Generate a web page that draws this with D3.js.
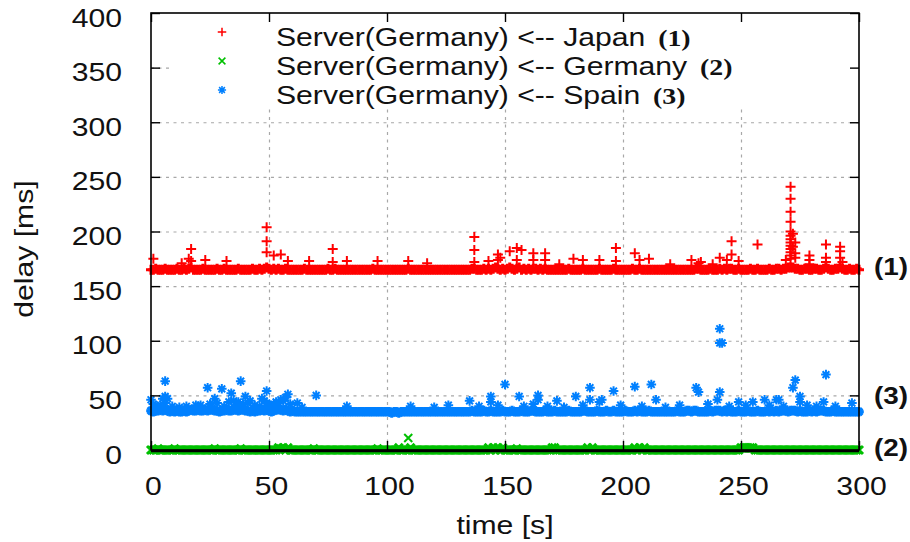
<!DOCTYPE html>
<html lang="en">
<head>
  <meta charset="utf-8">
  <script src="https://d3js.org/d3.v7.min.js"></script>
  <style>
    body { margin: 0; background: #fff; }
    text { font-family: "Liberation Sans", Arial, sans-serif; fill: #111; }
    .grid line { stroke: #a8a8a8; stroke-width: 1.2; stroke-dasharray: 3,4.5; }
    .grid path { display: none; }
    .ticks path { display: none; }
    .ticks line { stroke: #000; stroke-width: 1.4; }
  </style>
</head>
<body>
<svg class="chart"></svg>
<script>
  const timeTicks = [0, 50, 100, 150, 200, 250, 300];
  const delayTicks = [0, 50, 100, 150, 200, 250, 300, 350, 400];

  const legendNames = ["Server(Germany) <-- Japan", "Server(Germany) <-- Germany", "Server(Germany) <-- Spain"];
  const legendTags = ["(1)", "(2)", "(3)"];

  // one sample per second, t = 0..300 (the dense band)
  const japanDelay = [
    165,165,166,165,165,165,166,165,165,165,165,166,165,165,166,165,166,167,165,165,
    165,165,166,165,165,165,165,165,166,165,165,166,165,165,165,165,165,166,165,165,
    165,165,165,166,165,165,166,165,166,167,166,165,166,165,166,165,165,166,165,165,
    165,165,165,165,165,166,165,165,165,165,165,165,165,165,165,166,165,165,166,165,
    165,165,165,165,165,165,165,165,165,165,165,165,165,165,166,165,165,165,165,165,
    165,165,165,165,165,165,165,165,165,166,165,165,165,165,165,165,165,165,165,165,
    165,165,165,165,165,165,165,165,165,165,165,165,165,165,165,165,166,166,165,165,
    165,166,165,166,165,166,167,166,165,166,165,166,167,166,165,166,167,165,166,165,
    166,165,166,166,165,166,165,166,165,165,165,165,165,165,165,165,165,166,165,165,
    165,165,165,166,165,165,165,165,165,165,166,165,165,165,165,165,166,165,165,165,
    165,165,165,165,166,165,165,166,165,165,165,165,165,165,165,165,165,165,165,165,
    165,165,165,165,165,165,165,165,165,165,165,166,166,165,165,165,165,166,165,165,
    165,166,165,166,165,166,166,165,165,166,165,165,165,165,166,165,165,166,165,165,
    165,165,166,165,165,166,166,165,166,166,167,167,167,166,166,165,165,166,166,165,
    165,166,166,165,165,166,167,166,165,165,166,166,167,166,165,165,166,165,165,166,
    165
  ];
  const germanyDelay = [
    0,0,0,1,0,0,0,0,0,0,1,0,0,0,0,0,0,0,0,0,
    0,0,0,0,0,0,0,1,0,0,0,0,0,0,0,0,0,0,1,0,
    0,0,0,0,0,0,0,0,0,0,0,0,0,0,2,1,2,0,2,0,
    0,0,0,0,0,0,0,0,0,1,0,0,0,0,0,0,0,0,0,0,
    0,0,0,0,0,0,0,0,0,0,0,0,0,0,0,0,1,0,0,0,
    0,0,0,0,0,2,0,0,0,0,2,0,0,0,0,0,0,0,0,0,
    0,0,0,0,0,0,0,0,0,0,0,0,0,0,0,0,0,0,0,0,
    0,0,0,2,0,2,0,2,0,2,0,0,0,0,0,1,0,0,0,0,
    0,0,0,0,0,0,0,0,0,0,2,2,0,0,0,0,0,0,0,0,
    0,0,0,0,0,2,0,2,0,0,0,0,0,0,0,0,0,0,0,0,
    0,0,0,0,0,2,0,2,0,2,0,0,0,0,0,0,0,0,0,0,
    0,0,0,0,0,0,0,0,0,0,0,0,0,0,0,0,0,0,0,0,
    0,0,0,0,0,0,0,0,0,0,2,2,2,2,2,2,0,0,0,0,
    0,0,0,0,0,0,0,0,0,0,0,0,0,0,0,0,0,0,0,0,
    0,0,0,0,0,0,0,0,0,0,0,0,0,0,0,0,0,0,0,0,
    0
  ];
  const spainDelay = [
    36,35,36,36,37,36,37,36,35,36,35,36,35,35,36,35,36,37,36,36,
    37,36,36,37,36,37,37,36,36,35,36,36,37,36,36,37,37,36,37,37,
    36,36,35,36,35,36,36,37,36,37,36,35,36,37,37,37,36,37,36,35,
    36,35,35,35,35,35,35,35,35,35,35,35,35,35,35,35,35,35,35,35,
    35,35,35,35,35,35,35,35,35,35,35,35,35,35,35,35,35,35,35,35,
    35,35,34,35,35,34,35,35,35,35,35,35,35,35,35,35,35,35,35,35,
    35,35,35,35,35,35,35,35,35,35,35,35,35,35,35,35,36,35,35,35,
    35,36,35,35,36,35,35,35,35,36,35,35,35,36,35,35,35,36,35,35,
    35,36,36,35,35,35,35,36,35,35,35,36,35,35,35,35,35,36,35,35,
    35,35,35,36,36,35,35,35,35,36,35,35,35,36,35,35,36,35,35,35,
    35,36,35,35,35,36,35,36,35,35,35,36,35,35,35,35,35,35,35,35,
    35,35,35,36,35,35,35,36,36,35,36,36,35,35,35,35,35,36,35,36,
    36,36,35,36,35,36,35,35,35,36,35,35,35,36,35,35,35,36,35,35,
    35,36,35,36,35,36,35,36,36,36,35,36,36,36,35,36,35,35,35,36,
    35,36,35,36,36,36,35,35,35,36,35,35,35,35,35,35,35,35,35,35,
    35
  ];

  // isolated samples above the band: [time s, delay ms]
  const japanSpikes = [
    [1,175],[13,171],[16,175],[17,184],[17,173],[23,174],[32,173],[49,204],[49,191],[49,181],
    [52,178],[55,179],[58,173],[67,173],[77,184],[77,172],[83,173],[96,173],[109,173],[117,171],
    [137,195],[137,183],[137,172],[143,173],[147,179],[147,174],[148,176],[152,182],[155,185],[157,183],
    [155,174],[162,180],[162,174],[167,180],[167,174],[173,170],[179,175],[183,174],[190,174],[197,185],
    [197,173],[205,180],[207,174],[211,175],[220,170],[229,174],[232,171],[233,172],[238,170],[241,176],
    [244,174],[246,191],[246,179],[249,173],[257,188],[269,174],[271,241],[271,230],[271,218],[271,209],
    [271,200],[271,196],[271,193],[271,190],[271,187],[271,184],[271,181],[271,178],[271,175],[272,198],
    [272,186],[273,190],[273,180],[273,176],[279,178],[279,174],[279,170],[286,188],[286,176],[286,172],
    [292,186],[292,182],[292,176],[293,172]
  ];
  const germanySpikes = [[109, 11]];
  const spainSpikes = [
    [0,46],[1,42],[5,47],[6,63],[6,49],[7,47],[6,43],[19,41],[24,57],[27,47],
    [30,56],[34,52],[36,41],[37,44],[38,63],[40,49],[42,45],[47,47],[49,54],[49,43],
    [53,44],[55,46],[57,48],[58,51],[62,43],[70,50],[83,40],[110,40],[126,41],[135,45],
    [144,49],[144,44],[150,60],[156,49],[162,42],[164,50],[164,46],[172,45],[180,49],[186,57],
    [186,46],[190,44],[191,46],[196,54],[205,58],[212,60],[214,46],[231,57],[232,53],[240,46],
    [241,98],[242,98],[241,111],[241,53],[249,44],[255,44],[260,46],[265,46],[266,46],[272,57],
    [273,64],[275,49],[275,44],[285,44],[286,69],[297,43],
    [2,40],[4,41],[9,40],[12,39],[15,40],[21,41],[25,42],[28,43],[31,40],[33,44],
    [35,45],[39,42],[41,43],[44,41],[46,40],[48,45],[50,41],[52,42],[54,43],[56,45],
    [59,42],[64,39],[120,39],[139,40],[147,41],[158,40],[168,40],[175,39],[183,41],[199,41],
    [208,40],[218,39],[224,41],[236,42],[245,40],[252,41],[262,41],[268,40],[278,41],[282,40],
    [290,40]
  ];

  const margin = { top: 13, left: 151, right: 51, bottom: 92 };
  const width = 910 - margin.left - margin.right;
  const height = 542 - margin.top - margin.bottom;
  const stretch = 1.16;

  const svg = d3.select('.chart')
    .attr('width', 910)
    .attr('height', 542)
    .append('g')
    .attr('transform', `translate(${margin.left},${margin.top})`);

  const xScale = d3.scaleLinear().domain([0, 300]).range([0, width]);
  const yScale = d3.scaleLinear().domain([0, 400]).range([height, 0]);

  const marks = {
    plus: 'M-5,0H5M0,-5V5',
    cross: 'M-4,-4L4,4M-4,4L4,-4',
    star: 'M-4.8,0H4.8M0,-4.8V4.8M-3.4,-3.4L3.4,3.4M-3.4,3.4L3.4,-3.4'
  };

  // grid
  svg.append('g')
    .attr('class', 'grid')
    .attr('transform', `translate(0,${height})`)
    .call(d3.axisBottom(xScale).tickValues(timeTicks.slice(1, -1)).tickSize(-height).tickFormat(''));
  svg.append('g')
    .attr('class', 'grid')
    .call(d3.axisLeft(yScale).tickValues(delayTicks.slice(1, -1)).tickSize(-width).tickFormat(''));

  // key covers the grid under it
  svg.append('rect')
    .attr('x', 19).attr('y', 0)
    .attr('width', width - 19).attr('height', 95)
    .attr('fill', '#fff');

  function drawSeries(delay, spikes, mark, color) {
    const g = svg.append('g')
      .attr('fill', 'none')
      .attr('stroke', color);

    // dense band: samples overlap into a solid strip
    g.append('g')
      .attr('stroke-width', 3)
      .selectAll('path')
      .data(delay.map((v, i) => ({ t: i, v: v })))
      .enter()
      .append('path')
      .attr('d', marks[mark])
      .attr('transform', d => `translate(${xScale(d.t)},${yScale(d.v)})`);

    g.append('g')
      .attr('stroke-width', 2)
      .selectAll('path')
      .data(spikes.map(d => ({ t: d[0], v: d[1] })))
      .enter()
      .append('path')
      .attr('d', marks[mark])
      .attr('transform', d => `translate(${xScale(d.t)},${yScale(d.v)})`);
  }

  drawSeries(japanDelay, japanSpikes, 'plus', '#ff0000');
  drawSeries(germanyDelay, germanySpikes, 'cross', '#00c000');
  drawSeries(spainDelay, spainSpikes, 'star', '#0080ff');

  // border
  svg.append('rect')
    .attr('width', width).attr('height', height)
    .attr('fill', 'none')
    .attr('stroke', '#000')
    .attr('stroke-width', 1.6);
  svg.append('line')
    .attr('x1', 0).attr('x2', width)
    .attr('y1', yScale(0) + 1).attr('y2', yScale(0) + 1)
    .attr('stroke', '#000').attr('stroke-width', 2.5);

  // inward ticks on all sides, labels left and bottom
  const yAxis = svg.append('g')
    .attr('class', 'ticks')
    .call(d3.axisLeft(yScale).tickValues(delayTicks).tickSizeInner(-9).tickSizeOuter(0).tickPadding(29));
  yAxis.selectAll('text')
    .attr('x', null).attr('dy', null)
    .attr('font-size', 26)
    .attr('font-family', '"Liberation Sans", Arial, sans-serif')
    .attr('fill', '#111')
    .attr('transform', `translate(-29,13) scale(${stretch},1)`);

  const xAxis = svg.append('g')
    .attr('class', 'ticks')
    .attr('transform', `translate(0,${height})`)
    .call(d3.axisBottom(xScale).tickValues(timeTicks).tickSizeInner(-9).tickSizeOuter(0).tickPadding(0));
  xAxis.selectAll('text')
    .attr('y', null).attr('dy', null)
    .attr('font-size', 26)
    .attr('font-family', '"Liberation Sans", Arial, sans-serif')
    .attr('fill', '#111')
    .attr('transform', `translate(2,45) scale(${stretch},1)`);

  svg.append('g')
    .attr('class', 'ticks')
    .attr('transform', `translate(${width},0)`)
    .call(d3.axisRight(yScale).tickValues(delayTicks).tickSizeInner(-9).tickSizeOuter(0).tickFormat(''));
  svg.append('g')
    .attr('class', 'ticks')
    .call(d3.axisTop(xScale).tickValues(timeTicks).tickSizeInner(-9).tickSizeOuter(0).tickFormat(''));

  // axis titles
  svg.append('text')
    .attr('text-anchor', 'middle')
    .attr('font-size', 26)
    .attr('transform', `translate(${-118},${236}) rotate(-90) scale(${stretch},1)`)
    .text('delay [ms]');
  svg.append('text')
    .attr('text-anchor', 'middle')
    .attr('font-size', 26)
    .attr('transform', `translate(${width / 2},${height + 84}) scale(${stretch},1)`)
    .text('time [s]');

  // key
  const keyMarks = ['plus', 'cross', 'star'];
  const keyColors = ['#ff0000', '#00c000', '#0080ff'];
  legendNames.forEach((name, i) => {
    svg.append('path')
      .attr('d', marks[keyMarks[i]])
      .attr('transform', `translate(71,${19 + i * 29}) scale(0.85)`)
      .attr('fill', 'none')
      .attr('stroke', keyColors[i])
      .attr('stroke-width', 1.8);
    const t = svg.append('text')
      .attr('font-size', 26)
      .attr('transform', `translate(125,${33 + i * 29}) scale(${stretch},1)`)
      .text(name);
    t.append('tspan')
      .attr('dx', 11)
      .attr('font-family', '"Liberation Serif", "Times New Roman", serif')
      .attr('font-weight', 'bold')
      .attr('font-size', 24)
      .text(legendTags[i]);
  });

  // series tags at the right edge
  const tagLevels = [166, 0, 48];
  legendTags.forEach((tag, i) => {
    svg.append('text')
      .attr('font-family', '"Liberation Serif", "Times New Roman", serif')
      .attr('font-weight', 'bold')
      .attr('font-size', 24)
      .attr('transform', `translate(${width + 15},${yScale(tagLevels[i]) + 6}) scale(${stretch},1)`)
      .text(tag);
  });
</script>
</body>
</html>
